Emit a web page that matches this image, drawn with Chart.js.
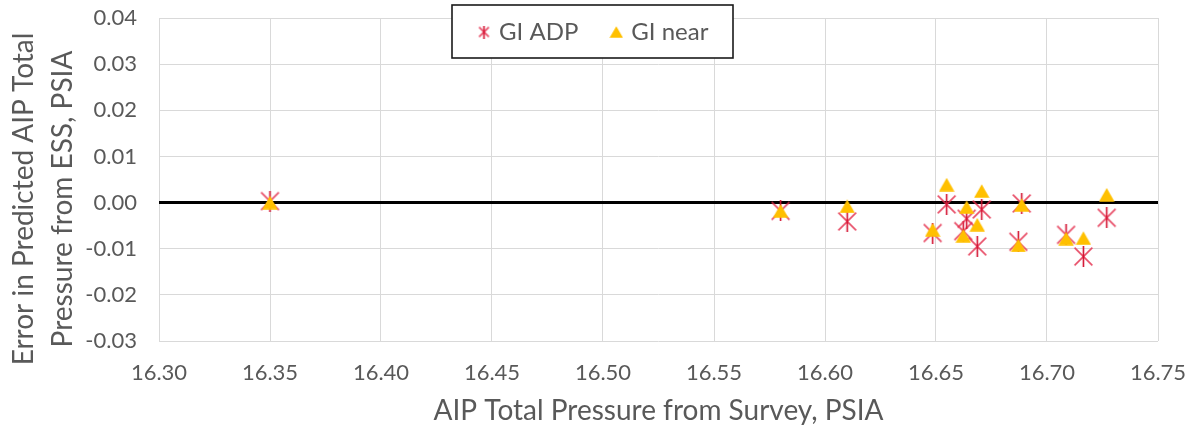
<!DOCTYPE html>
<html>
<head>
<meta charset="utf-8">
<script src="https://cdn.jsdelivr.net/npm/chart.js@4.4.1/dist/chart.umd.min.js"></script>
<style>
  html, body { margin: 0; padding: 0; background: #ffffff; }
  #wrap { width: 1191px; height: 432px; }
  canvas { display: block; }
</style>
</head>
<body>
<div id="wrap"><canvas id="chart" width="1191" height="432"></canvas></div>
<script>
// Survey total pressure (PSIA) shared by both series
const surveyPressure = [16.35, 16.58, 16.61, 16.6485, 16.6548, 16.6623, 16.6638, 16.6686, 16.6706, 16.6871, 16.6886, 16.7086, 16.7164, 16.7269];
// Error in predicted AIP total pressure (PSIA)
const errorGiAdp  = [0.0003, -0.0018, -0.0041, -0.0066, -0.0004, -0.0062, -0.0035, -0.0095, -0.0015, -0.0085, -0.0002, -0.0070, -0.0117, -0.0033];
const errorGiNear = [0.0000, -0.0018, -0.0008, -0.0059, 0.0039, -0.0072, -0.0010, -0.0048, 0.0025, -0.0093, -0.0005, -0.0078, -0.0077, 0.0017];

const seriesNames = ['GI ADP', 'GI near'];
const xTickValues = [16.30, 16.35, 16.40, 16.45, 16.50, 16.55, 16.60, 16.65, 16.70, 16.75];
const yTickValues = [-0.03, -0.02, -0.01, 0.00, 0.01, 0.02, 0.03, 0.04];
const xAxisTitle = 'AIP Total Pressure from Survey, PSIA';
const yAxisTitle = ['Error in Predicted AIP Total', 'Pressure from ESS, PSIA'];

const TEXT_GREY = '#595959';
const GRID_GREY = '#d9d9d9';
const FONT = 'Lato';

// Marker images: asterisk (vertical bar + X) and filled triangle
function makeAsterisk(size, lw) {
  const c = document.createElement('canvas');
  c.width = size; c.height = size;
  const g = c.getContext('2d');
  const m = lw, s = size - lw;
  g.lineCap = 'butt';
  g.lineWidth = lw;
  g.strokeStyle = 'rgba(228, 45, 75, 0.85)';
  g.beginPath();
  g.moveTo(m, m); g.lineTo(s, s);
  g.moveTo(s, m); g.lineTo(m, s);
  g.stroke();
  g.strokeStyle = '#d3102f';
  g.beginPath();
  g.moveTo(size / 2, 0); g.lineTo(size / 2, size);
  g.stroke();
  return c;
}
function makeTriangle(w, h) {
  const c = document.createElement('canvas');
  c.width = w; c.height = h;
  const g = c.getContext('2d');
  g.fillStyle = '#ffc000';
  g.beginPath();
  g.moveTo(w / 2, 0.3); g.lineTo(w - 0.3, h - 0.3); g.lineTo(0.3, h - 0.3);
  g.closePath();
  g.fill();
  return c;
}
const asteriskMark = makeAsterisk(21, 1.6);
const triangleMark = makeTriangle(16, 14);
const asteriskKey = makeAsterisk(13, 1.6);
const triangleKey = makeTriangle(14, 12);

const toPoints = (xs, ys) => xs.map((x, i) => ({ x: x, y: ys[i] }));

// White framed box behind the legend entries
const LEGEND_BOX = { x: 452, y: 5, w: 281, h: 53 };
const LEGEND_TEXT_Y = 32;
const LEGEND_START_X = 481;

const legendFrame = {
  id: 'legendFrame',
  beforeLayout(chart) {
    const lg = chart.legend;
    if (lg && !lg._noSpace) {
      const fit = lg.fit.bind(lg);
      lg.fit = function () { fit(); this.height = 0; };
      lg._noSpace = true;
    }
  },
  afterLayout(chart) {
    const lg = chart.legend;
    if (!lg) return;
    const lab = lg.options.labels;
    const fs = lab.font.size;
    lg.left = LEGEND_START_X - lab.padding;
    lg.right = 1180;
    lg.top = LEGEND_TEXT_Y - lab.padding - fs / 2;
    lg.bottom = LEGEND_BOX.y + LEGEND_BOX.h;
    lg.width = lg.right - lg.left;
    lg.height = lg.bottom - lg.top;
    if (!lg._framed) {
      const base = lg.draw.bind(lg);
      lg.draw = function (area) {
        const ctx = this.ctx;
        ctx.save();
        ctx.fillStyle = '#ffffff';
        ctx.fillRect(LEGEND_BOX.x, LEGEND_BOX.y, LEGEND_BOX.w, LEGEND_BOX.h);
        ctx.strokeStyle = '#1a1a1a';
        ctx.lineWidth = 1.6;
        ctx.strokeRect(LEGEND_BOX.x, LEGEND_BOX.y, LEGEND_BOX.w, LEGEND_BOX.h);
        ctx.restore();
        base(area);
      };
      lg._framed = true;
    }
  }
};

// Two-line vertical title at the left edge
const sideTitle = {
  id: 'sideTitle',
  afterDraw(chart) {
    const ctx = chart.ctx;
    ctx.save();
    ctx.fillStyle = TEXT_GREY;
    ctx.font = '28px ' + FONT;
    ctx.textAlign = 'center';
    ctx.textBaseline = 'middle';
    const cy = 199;
    const xs = [24, 63];
    yAxisTitle.forEach((line, i) => {
      ctx.save();
      ctx.translate(xs[i], cy);
      ctx.rotate(-Math.PI / 2);
      ctx.fillText(line, 0, 0);
      ctx.restore();
    });
    ctx.restore();
  }
};

// Fixed axis band sizes, with no extra room reserved for end labels
function fixBand(prop, size) {
  return s => {
    s[prop] = size;
    s.paddingTop = 0; s.paddingBottom = 0; s.paddingLeft = 0; s.paddingRight = 0;
  };
}

function build() {
  new Chart(document.getElementById('chart'), {
    type: 'scatter',
    data: {
      datasets: [
        {
          label: seriesNames[0],
          data: toPoints(surveyPressure, errorGiAdp),
          pointStyle: asteriskMark,
          order: 2
        },
        {
          label: seriesNames[1],
          data: toPoints(surveyPressure, errorGiNear),
          pointStyle: triangleMark,
          order: 1
        }
      ]
    },
    options: {
      responsive: false,
      animation: false,
      devicePixelRatio: 1,
      layout: { padding: { top: 18, right: 33, left: 0, bottom: 0 } },
      plugins: {
        tooltip: { enabled: false },
        legend: {
          position: 'top',
          align: 'start',
          labels: {
            usePointStyle: true,
            pointStyleWidth: 6,
            padding: 35,
            color: TEXT_GREY,
            font: { family: FONT, size: 24 },
            sort: (a, b) => a.datasetIndex - b.datasetIndex,
            generateLabels(chart) {
              const items = Chart.defaults.plugins.legend.labels.generateLabels(chart);
              items.forEach(it => {
                it.pointStyle = it.datasetIndex === 0 ? asteriskKey : triangleKey;
              });
              return items;
            }
          }
        }
      },
      scales: {
        x: {
          type: 'linear',
          min: xTickValues[0],
          max: xTickValues[xTickValues.length - 1],
          afterBuildTicks: s => { s.ticks = xTickValues.map(v => ({ value: v })); },
          afterFit: fixBand('height', 91),
          ticks: {
            color: TEXT_GREY,
            font: { family: FONT, size: 22 },
            padding: 19,
            maxRotation: 0,
            callback: v => Number(v).toFixed(2)
          },
          grid: { color: GRID_GREY, lineWidth: 1, drawTicks: false, z: -2 },
          border: { display: false },
          title: {
            display: true,
            text: xAxisTitle,
            color: TEXT_GREY,
            font: { family: FONT, size: 28 },
            padding: { top: 0, bottom: 4 }
          }
        },
        y: {
          type: 'linear',
          min: yTickValues[0],
          max: yTickValues[yTickValues.length - 1],
          afterBuildTicks: s => { s.ticks = yTickValues.map(v => ({ value: v })); },
          afterFit: fixBand('width', 159),
          ticks: {
            color: TEXT_GREY,
            font: { family: FONT, size: 22 },
            padding: 22,
            callback: v => Number(v).toFixed(2)
          },
          grid: {
            color: c => (c.tick && Math.abs(c.tick.value) < 1e-9) ? '#000000' : GRID_GREY,
            lineWidth: c => (c.tick && Math.abs(c.tick.value) < 1e-9) ? 3 : 1,
            drawTicks: false,
            z: -1
          },
          border: { display: false }
        }
      }
    },
    plugins: [legendFrame, sideTitle]
  });
}

if (document.fonts && document.fonts.load) {
  Promise.all([document.fonts.load('22px Lato'), document.fonts.load('28px Lato')]).then(build, build);
} else {
  build();
}
</script>
</body>
</html>
